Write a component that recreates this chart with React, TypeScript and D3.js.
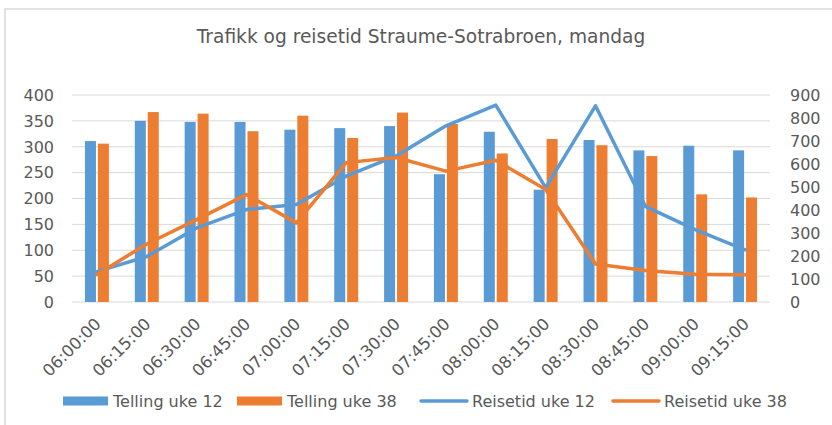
import React, { useEffect, useRef } from "react";
import * as d3 from "d3";

const times = [
  "06:00:00", "06:15:00", "06:30:00", "06:45:00", "07:00:00", "07:15:00", "07:30:00",
  "07:45:00", "08:00:00", "08:15:00", "08:30:00", "08:45:00", "09:00:00", "09:15:00",
];
const tellingUke12 = [311, 350, 348, 348, 333, 336, 340, 247, 329, 217, 313, 293, 302, 293];
const tellingUke38 = [306, 367, 364, 330, 360, 317, 366, 344, 287, 315, 303, 282, 208, 202];
const reisetidUke12 = [132, 198, 322, 402, 424, 547, 635, 766, 856, 497, 853, 416, 315, 227];
const reisetidUke38 = [120, 252, 358, 467, 344, 606, 628, 569, 616, 489, 165, 137, 121, 118];
const leftTicks = [0, 50, 100, 150, 200, 250, 300, 350, 400];
const rightTicks = [0, 100, 200, 300, 400, 500, 600, 700, 800, 900];

const BLUE = "#5b9bd5";
const ORANGE = "#ed7d31";
const TEXT = "#595959";
const GRID = "#d9d9d9";
const FONT = "DejaVu Sans";

const width = 832;
const height = 425;
const plot = { left: 72, right: 770, top: 95, bottom: 302 };

const App = () => {
  const ref = useRef<SVGGElement>(null);

  useEffect(() => {
    const g = d3.select(ref.current);
    g.selectAll("*").remove();

    const x0 = d3.scaleBand<string>().domain(times).range([plot.left, plot.right]);
    const x1 = d3
      .scaleBand<string>()
      .domain(["u12", "u38"])
      .range([0, x0.bandwidth()])
      .paddingInner(0.15)
      .paddingOuter(1);
    const yL = d3.scaleLinear().domain([0, 400]).range([plot.bottom, plot.top]);
    const yR = d3.scaleLinear().domain([0, 900]).range([plot.bottom, plot.top]);
    const cx = (t: string) => (x0(t) as number) + x0.bandwidth() / 2;

    // frame
    g.append("rect")
      .attr("x", 5)
      .attr("y", 9)
      .attr("width", 900)
      .attr("height", 500)
      .attr("fill", "white")
      .attr("stroke", GRID)
      .attr("stroke-width", 1.5);

    // title
    g.append("text")
      .attr("x", 421)
      .attr("y", 43)
      .attr("text-anchor", "middle")
      .attr("fill", TEXT)
      .style("font-family", FONT)
      .style("font-size", "18.6px")
      .text("Trafikk og reisetid Straume-Sotrabroen, mandag");

    // grid
    g.selectAll("line.grid")
      .data(leftTicks)
      .enter()
      .append("line")
      .attr("class", "grid")
      .attr("x1", plot.left)
      .attr("x2", plot.right)
      .attr("y1", d => yL(d))
      .attr("y2", d => yL(d))
      .attr("stroke", GRID)
      .attr("stroke-width", 1);

    // left axis labels
    g.selectAll("text.yl")
      .data(leftTicks)
      .enter()
      .append("text")
      .attr("class", "yl")
      .attr("x", 54)
      .attr("y", d => yL(d))
      .attr("dy", "0.36em")
      .attr("text-anchor", "end")
      .attr("fill", TEXT)
      .style("font-family", FONT)
      .style("font-size", "16px")
      .text(d => d);

    // right axis labels
    g.selectAll("text.yr")
      .data(rightTicks)
      .enter()
      .append("text")
      .attr("class", "yr")
      .attr("x", 790)
      .attr("y", d => yR(d))
      .attr("dy", "0.36em")
      .attr("fill", TEXT)
      .style("font-family", FONT)
      .style("font-size", "16px")
      .text(d => d);

    // bars
    const bars = [
      { key: "u12", values: tellingUke12, color: BLUE },
      { key: "u38", values: tellingUke38, color: ORANGE },
    ];
    bars.forEach(s => {
      g.selectAll(`rect.bar-${s.key}`)
        .data(s.values)
        .enter()
        .append("rect")
        .attr("class", `bar-${s.key}`)
        .attr("x", (d, i) => (x0(times[i]) as number) + (x1(s.key) as number))
        .attr("width", x1.bandwidth())
        .attr("y", d => yL(d))
        .attr("height", d => yL(0) - yL(d))
        .attr("fill", s.color);
    });

    // lines
    const line = d3
      .line<number>()
      .x((d, i) => cx(times[i]))
      .y(d => yR(d));
    [
      { values: reisetidUke12, color: BLUE },
      { values: reisetidUke38, color: ORANGE },
    ].forEach(s => {
      g.append("path")
        .attr("d", line(s.values))
        .attr("fill", "none")
        .attr("stroke", s.color)
        .attr("stroke-width", 3.5)
        .attr("stroke-linejoin", "round")
        .attr("stroke-linecap", "round");
    });

    // x labels
    g.selectAll("text.xl")
      .data(times)
      .enter()
      .append("text")
      .attr("class", "xl")
      .attr("transform", d => `translate(${cx(d) + 5},${plot.bottom + 23}) rotate(-45)`)
      .attr("text-anchor", "end")
      .attr("fill", TEXT)
      .style("font-family", FONT)
      .style("font-size", "16.5px")
      .text(d => d);

    // legend
    const legend = [
      { label: "Telling uke 12", color: BLUE, type: "bar", x: 63 },
      { label: "Telling uke 38", color: ORANGE, type: "bar", x: 237 },
      { label: "Reisetid uke 12", color: BLUE, type: "line", x: 421 },
      { label: "Reisetid uke 38", color: ORANGE, type: "line", x: 613 },
    ];
    const ly = 401;
    legend.forEach(item => {
      if (item.type === "bar") {
        g.append("rect")
          .attr("x", item.x)
          .attr("y", ly - 4.5)
          .attr("width", 45)
          .attr("height", 9)
          .attr("fill", item.color);
      } else {
        g.append("line")
          .attr("x1", item.x)
          .attr("x2", item.x + 46)
          .attr("y1", ly)
          .attr("y2", ly)
          .attr("stroke", item.color)
          .attr("stroke-width", 3.5)
          .attr("stroke-linecap", "round");
      }
      g.append("text")
        .attr("x", item.x + (item.type === "bar" ? 50 : 51))
        .attr("y", ly)
        .attr("dy", "0.36em")
        .attr("fill", TEXT)
        .style("font-family", FONT)
        .style("font-size", "16px")
        .text(item.label);
    });
  }, []);

  return (
    <div style={{ position: "fixed", left: 0, top: 0 }}>
      <svg width={width} height={height} style={{ display: "block" }}>
        <g ref={ref} />
      </svg>
    </div>
  );
};

export default App;
